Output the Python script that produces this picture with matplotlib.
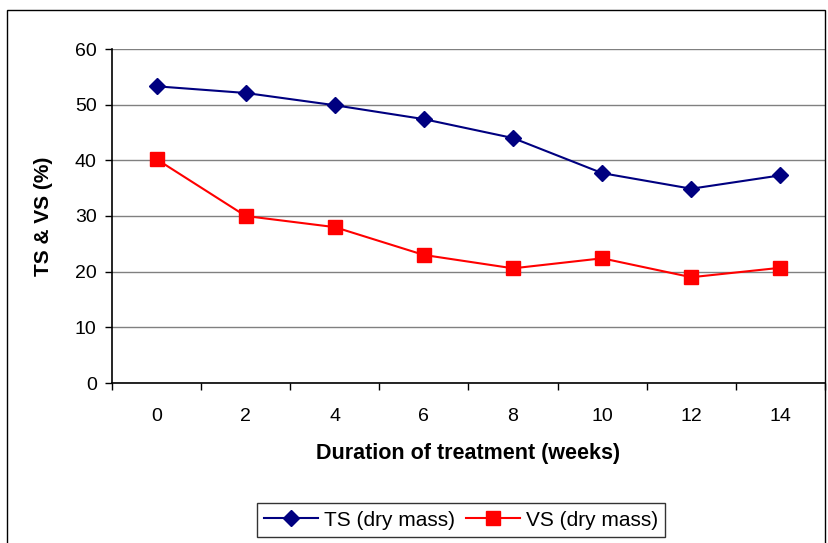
import matplotlib as mpl
import matplotlib.pyplot as plt
from matplotlib.patches import Rectangle

plt.rcParams['font.family'] = ['Liberation Sans', 'DejaVu Sans']

weeks = ['0', '2', '4', '6', '8', '10', '12', '14']
ts_dry = [53.3, 52.1, 49.9, 47.4, 44.0, 37.7, 34.9, 37.3]
vs_dry = [40.2, 30.0, 28.0, 23.0, 20.6, 22.4, 19.0, 20.7]

W, H = 829, 543
fig = plt.figure(figsize=(W / 100, H / 100), dpi=100)

# plot area in pixel coordinates
left, right, top, bottom = 112, 825, 49, 383
ax = fig.add_axes([left / W, 1 - bottom / H, (right - left) / W, (bottom - top) / H])

# chart area border
fig.patches.append(Rectangle((7 / W, -0.01), (825 - 7) / W, 1 - 10 / H + 0.01,
                             transform=fig.transFigure, fill=False,
                             edgecolor='black', linewidth=1.0))

x = list(range(len(weeks)))
ax.plot(x, ts_dry, color='#000080', lw=1.5, marker='D', ms=8.5,
        label='TS (dry mass)', zorder=3)
ax.plot(x, vs_dry, color='#FF0000', lw=1.5, marker='s', ms=10.5,
        label='VS (dry mass)', zorder=3)

ax.set_xlim(-0.5, len(weeks) - 0.5)
ax.set_ylim(0, 60)
ax.set_yticks(range(0, 61, 10))
ax.set_xticks(x)
ax.set_xticklabels(weeks)
ax.set_xticks([i - 0.5 for i in range(len(weeks) + 1)], minor=True)
ax.tick_params(axis='x', which='major', length=0, labelsize=14, pad=18)
ax.tick_params(axis='x', which='minor', length=5, width=1, direction='out')
ax.tick_params(axis='y', length=5, width=1, direction='out', labelsize=14, pad=6)

ax.grid(axis='y', color='#808080', lw=1, zorder=0)
for s in ['top', 'right']:
    ax.spines[s].set_visible(False)
ax.spines['left'].set_linewidth(1.2)
ax.spines['bottom'].set_linewidth(1.2)

ax.set_xlabel('Duration of treatment (weeks)', fontsize=15.5, fontweight='bold', labelpad=13)
ax.set_ylabel('TS & VS (%)', fontsize=15, fontweight='bold', labelpad=16)

leg = fig.legend(loc='center', bbox_to_anchor=(461 / W, 1 - 520 / H), ncol=2,
                 fontsize=15, frameon=True, fancybox=False, edgecolor='black',
                 handlelength=2.6, columnspacing=0.5, handletextpad=0.3,
                 borderpad=0.35, borderaxespad=0)
leg.get_frame().set_linewidth(1.0)

fig.savefig('out.png', dpi=100)
